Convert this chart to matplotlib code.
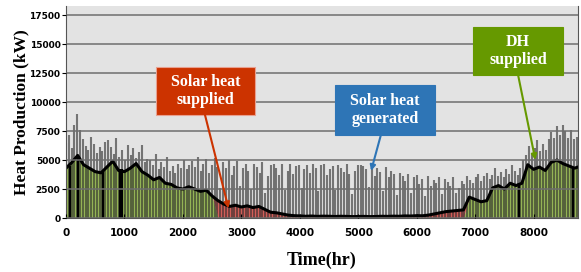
import numpy as np
import matplotlib.pyplot as plt
from matplotlib.patches import Rectangle

# 100時間ごとの熱供給 (kW)
hours = list(range(0, 8701, 100)) + [8760]

dh_supplied = [4300, 4800, 5400, 4600, 4300, 4000, 3900, 4400, 4900, 4100,
               4000, 4300, 4700, 4000, 3700, 3300, 3500, 3000, 2900, 2600,
               2500, 2700, 2500, 2300, 2400, 1900] + [0] * 43 + \
              [1800, 1600, 1400, 1500, 2600, 2800, 2500, 3000, 2800, 3000,
               4600, 4200, 4400, 4100, 4800, 5000, 4700, 4500, 4300, 4400]

solar_supplied = [0] * 26 + \
                 [1500, 1200, 1000, 1100, 950, 1050, 900, 1000, 750, 500,
                  450, 350, 250, 200, 180, 150, 170, 140, 160, 150,
                  130, 150, 140, 120, 130, 140, 120, 130, 150, 140,
                  160, 150, 180, 170, 200, 190, 250, 350, 450, 550,
                  600, 650, 700] + [0] * 20

# 48時間ごとのピーク値
spike_hours = list(range(0, 8760, 48))
spike_peaks = [6500, 7200, 6000, 8000, 9000, 7600, 6800, 6200, 5900, 7000, 6400, 5600, 6100, 5800, 6600,
               6700, 6100, 5500, 6900, 5300, 5900, 5000, 6300, 5400, 6000, 5200, 5700, 6300, 4800, 5100,
               5000, 4600, 5500, 4200, 4800, 4400, 5300, 4100, 4500, 3900, 4700, 4300, 5000, 4200, 4600,
               4900, 4400, 5300, 4100, 4700, 5100, 3900, 4600, 5200, 4400, 2600, 4800, 4300, 5000, 3700,
               4500, 4900, 2800, 4300, 4700, 4100, 2500, 4700, 4400, 3900, 4800, 2200, 3600, 4600, 4700,
               4300, 3700, 4700, 2400, 4100, 4700, 3800, 4500, 4600, 2600, 4200, 4600, 3900, 4700, 4300,
               2300, 4600, 4700, 3700, 4200, 4500, 2400, 4600, 4300, 4000, 4700, 3800, 2100, 4100, 4600,
               4600, 4500, 4200, 2700, 4600, 3600, 4300, 4000, 2300, 4400, 3500, 4100, 3800, 2000, 3900,
               3600, 3200, 3800, 2200, 3500, 3700, 2900, 3400, 1900, 3600, 2800, 3300, 3000, 3500, 2100,
               3400, 3100, 2800, 3500, 2200, 2600, 3200, 2900, 3600, 3300, 3000, 3500, 3800, 3200, 3600,
               3900, 3400, 3700, 4300, 3600, 4000, 3500, 4200, 3800, 4600, 4100, 3700, 4300, 5000, 5400,
               6200, 5500, 6000, 6700, 5800, 6400, 5900, 6800, 7400, 6900, 7900, 7200, 8000, 7500, 6900,
               7600, 6800, 7000]

# 供給停止
dip_hours = [60, 210, 640, 930, 960, 7750, 8670]
dip_tops = [4500, 5200, 4000, 4200, 4200, 3000, 4400]

demand = np.array(dh_supplied) + np.array(solar_supplied)

fig = plt.figure(figsize=(5.81, 2.72), dpi=100)
ax = fig.add_axes([66 / 581, 1 - 218 / 272, 512 / 581, 212 / 272])
ax.set_facecolor('#e3e3e3')

ax.fill_between(hours, 0, dh_supplied, color='#9bbb59', lw=0)
ax.fill_between(hours, dh_supplied, demand, color='#dc625c', lw=0)
ax.vlines(spike_hours, 0, spike_peaks, color='#2a2a2a', alpha=0.6, lw=1.5)
ax.vlines(dip_hours, 0, dip_tops, color='black', lw=1.6)
ax.plot(hours, demand, color='black', lw=2.2)

ax.set_xlim(0, 8760)
ax.set_ylim(0, 18300)
ax.set_xticks(range(0, 8001, 1000))
ax.set_yticks(range(0, 17501, 2500))
ax.yaxis.grid(True, color='#6e6e6e', lw=1.1)
ax.set_axisbelow(False)
for t in ax.get_xticklabels() + ax.get_yticklabels():
    t.set_fontweight('bold')
ax.tick_params(axis='both', colors='black', length=3, width=0.8)
ax.tick_params(axis='x', direction='in', pad=7, labelsize=7.5)
ax.tick_params(axis='y', pad=1, labelsize=6.5)
ax.spines['top'].set_visible(False)
for s in ['left', 'right', 'bottom']:
    ax.spines[s].set_color('#555555')

ax.set_xlabel('Time(hr)', fontsize=13, fontweight='bold', family='Liberation Serif', labelpad=10)
ax.set_ylabel('Heat Production (kW)', fontsize=12.5, fontweight='bold', family='Liberation Serif')
ax.yaxis.set_label_coords(-0.071, 0.5)

# 注釈ボックス
boxes = [
    ('Solar heat\nsupplied', (0.1758, 0.4858, 0.1934, 0.2264), '#cc3300', (0.2715, 0.4858), (2780, 850)),
    ('Solar heat\ngenerated', (0.5254, 0.3915, 0.1953, 0.2358), '#2e75b6', (0.615, 0.3915), (5220, 4070)),
    ('DH\nsupplied', (0.795, 0.6745, 0.1758, 0.2264), '#669900', (0.883, 0.6745), (8030, 5020)),
]
for label, (x0, y0, w, h), col, start, tip in boxes:
    ax.add_patch(Rectangle((x0, y0), w, h, transform=ax.transAxes, facecolor=col,
                           edgecolor='#e8a090' if col == '#cc3300' else col, lw=0.8, zorder=5))
    ax.text(x0 + w / 2, y0 + h / 2, label, transform=ax.transAxes, ha='center', va='center',
            color='white', fontsize=11.5, fontweight='bold', family='Liberation Serif',
            linespacing=1.2, zorder=6)
    ax.annotate('', xy=tip, xycoords='data', xytext=start, textcoords='axes fraction',
                arrowprops=dict(arrowstyle='-|>', color=col, lw=1.5, mutation_scale=8,
                                shrinkA=0, shrinkB=0), zorder=6)

plt.savefig('out.png', dpi=100)
